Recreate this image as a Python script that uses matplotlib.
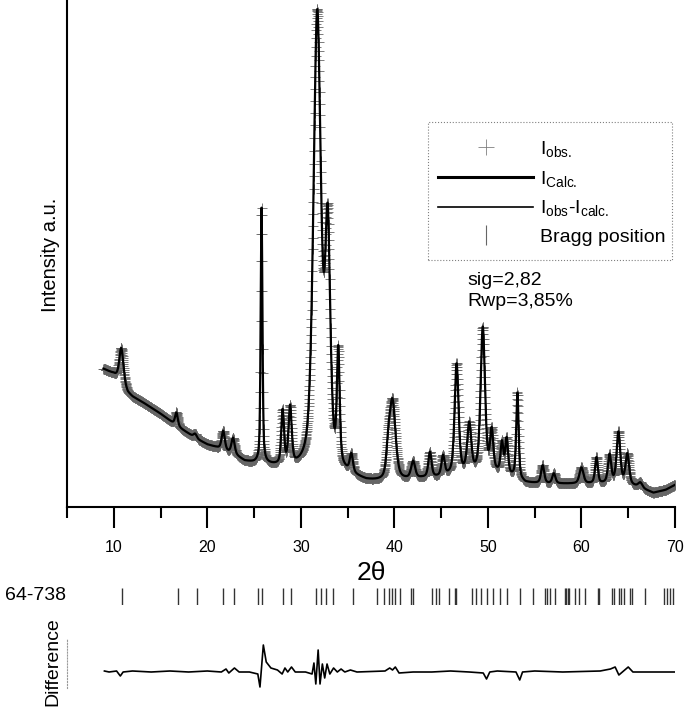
import numpy as np
import matplotlib
matplotlib.use('Agg')
import matplotlib.pyplot as plt
from matplotlib.lines import Line2D
from matplotlib.patches import Rectangle

plt.rcParams['font.family'] = ['Liberation Sans', 'DejaVu Sans']
plt.rcParams['mathtext.fontset'] = 'custom'
plt.rcParams['mathtext.rm'] = 'Liberation Sans'

# refined reflections: position (2theta), height (counts), FWHM (deg)
peak_pos = [10.8, 16.7, 18.7, 21.7, 22.75, 25.8, 28.05, 28.85, 31.75, 32.87,
            34.0, 35.4, 39.35, 39.8, 42.0, 43.8, 45.2, 46.65, 48.0, 49.45,
            50.4, 51.5, 52.0, 53.15, 55.85, 57.05, 60.0, 61.6, 63.0, 63.95,
            64.9, 66.3]
peak_amp = [330, 130, 40, 190, 160, 2550, 540, 580, 4550, 2300,
            1120, 180, 250, 780, 170, 250, 200, 1100, 480, 1450,
            400, 300, 350, 850, 180, 100, 160, 260, 280, 500,
            300, 50]
peak_fwhm = [0.5, 0.35, 0.4, 0.4, 0.4, 0.22, 0.35, 0.4, 0.95, 0.65,
             0.35, 0.4, 0.5, 0.75, 0.5, 0.4, 0.4, 0.5, 0.5, 0.55,
             0.4, 0.35, 0.35, 0.3, 0.4, 0.4, 0.5, 0.35, 0.4, 0.45,
             0.45, 0.5]

# background points
bg_pos = [8.9, 10, 11, 11.5, 12, 13, 14, 15, 16, 17, 18, 19, 20, 21, 22, 23, 24,
          25, 26, 27, 28, 29, 30, 33, 35, 37, 39, 41, 43, 45, 47, 49, 51, 53,
          54, 56, 58, 60, 62, 64, 66, 67.7, 69, 70]
bg_int = [1380, 1330, 1240, 1140, 1100, 1050, 990, 930, 860, 790, 730, 670, 620,
          590, 550, 510, 450, 430, 420, 400, 380, 360, 350, 320, 300, 250, 240,
          260, 280, 290, 320, 330, 330, 290, 240, 230, 230, 230, 230, 240, 200,
          140, 170, 220]

# difference curve Iobs - Icalc
diff_pos = [9.0, 9.5, 10.3, 10.7, 11.0, 12, 14, 16, 18, 20, 21.5, 22.0, 22.3,
            22.9, 23.4, 24.5, 25.4, 25.63, 25.99, 26.3, 26.8, 27.5, 28.0, 28.3,
            28.6, 29.0, 29.4, 30.5, 31.2, 31.4, 31.6, 31.85, 32.05, 32.3, 32.55,
            32.8, 33.1, 33.5, 33.9, 34.3, 34.7, 35.3, 36, 39.0, 39.5, 39.8, 40.1,
            40.5, 42, 44, 46, 48, 49.5, 49.85, 50.2, 51, 53.0, 53.4, 53.7, 55,
            58, 62, 63.1, 63.6, 64.0, 64.5, 65.0, 65.5, 70.2]
diff_val = [10, 0, 10, -40, 0, 10, 0, 10, 0, 10, 0, 30, -10,
            40, 0, 0, -20, -150, 270, 100, 40, 20, -20, 40,
            0, 50, 0, 0, -20, 90, -120, 220, -120, 80, -60,
            80, -20, 40, 0, 30, 0, 20, 0, 10, 40, 20, 50,
            -10, 0, 0, 10, 0, -10, -70, 0, 10, 0, -80, 0, 10,
            0, 10, 30, 50, -30, 10, 50, 0, 0]

# Bragg positions, card 64-738
bragg_pos = [10.85, 16.87, 18.9, 21.68, 22.85, 25.4, 25.85, 28.1, 28.95, 31.6,
             32.15, 32.7, 33.4, 35.55, 38.14, 38.87, 39.4, 39.74, 40.07, 40.6,
             41.78, 41.99, 43.98, 44.45, 44.77, 45.84, 46.43, 46.59, 48.3, 48.69,
             49.3, 49.95, 50.54, 51.29, 52.01, 53.43, 54.78, 56.07, 56.32, 56.64,
             57.22, 58.24, 58.35, 58.51, 58.67, 59.31, 59.74, 60.36, 61.72, 61.87,
             63.26, 63.52, 63.96, 64.23, 64.55, 65.19, 65.4, 66.76, 68.82, 69.1,
             69.46, 69.82]


def profile(tt):
    # background + pseudo-Voigt reflections
    y = np.interp(tt, bg_pos, bg_int)
    for p, a, w in zip(peak_pos, peak_amp, peak_fwhm):
        g = np.exp(-4 * np.log(2) * ((tt - p) / w) ** 2)
        l = 1.0 / (1 + (2 * (tt - p) / w) ** 2)
        y = y + a * (0.5 * g + 0.5 * l)
    return y


tt = np.arange(8.9, 70.0, 0.02)
i_calc = profile(tt)

W, H = 685, 709
fig = plt.figure(figsize=(W / 100, H / 100), dpi=100)

# main pattern
ax = fig.add_axes([67 / W, 1 - 507 / H, 608 / W, 507 / H])
ax.plot(tt, i_calc, ls='none', marker='+', ms=6.5, mew=0.6, color='0.4')
ax.plot(tt, i_calc, color='black', lw=1.6)
ax.set_xlim(5, 70)
ax.set_ylim(0, 5070)
for s in ['top', 'right']:
    ax.spines[s].set_visible(False)
ax.spines['left'].set_linewidth(1.5)
ax.spines['bottom'].set_linewidth(1.5)
ax.set_yticks([])
ax.set_xticks(np.arange(10, 71, 10))
ax.set_xticks(np.arange(5, 71, 10), minor=True)
ax.tick_params(axis='x', which='major', length=15, width=1.5, pad=9, labelsize=11.5)
ax.tick_params(axis='x', which='minor', length=8, width=1.5)

fig.text(371 / W, 1 - 573 / H, '2θ', ha='center', va='center', fontsize=19)
fig.text(51 / W, 1 - 255 / H, 'Intensity a.u.', rotation=90, ha='center', va='center', fontsize=14.5)

# legend: dotted box drawn separately, entries placed inside it
fig.patches.append(Rectangle((428 / W, 1 - 260 / H), 244 / W, 138 / H,
                             transform=fig.transFigure, fill=False,
                             edgecolor='0.5', linestyle=':', linewidth=0.8))
handles = [
    Line2D([], [], ls='none', marker='+', ms=12, mew=0.6, color='0.5'),
    Line2D([], [], color='black', lw=2.2),
    Line2D([], [], color='black', lw=1.2),
    Line2D([], [], ls='none', marker='|', ms=14, mew=0.8, color='0.4'),
]
labels = [r'$\mathregular{I_{obs.}}$', r'$\mathregular{I_{Calc.}}$',
          r'$\mathregular{I_{obs}\text{-}I_{calc.}}$', 'Bragg position']
leg = fig.legend(handles, labels, loc='upper left', bbox_to_anchor=(438 / W, 1 - 139 / H),
                 bbox_transform=fig.transFigure, borderaxespad=0, borderpad=0,
                 fontsize=14, handlelength=4.9, handletextpad=0.35,
                 labelspacing=0.5, frameon=False)

fig.text(467 / W, 1 - 280 / H, 'sig=2,82', va='center', fontsize=14)
fig.text(467 / W, 1 - 302 / H, 'Rwp=3,85%', va='center', fontsize=14)

# Bragg ticks
axb = fig.add_axes([67 / W, 1 - 605 / H, 608 / W, 17 / H])
axb.vlines(bragg_pos, 0, 1, color='0.2', lw=1.0)
axb.set_xlim(5, 70)
axb.set_ylim(0, 1)
axb.axis('off')
fig.text(5 / W, 1 - 596 / H, '64-738', va='center', fontsize=14)

# difference
axd = fig.add_axes([67 / W, 0, 608 / W, 79 / H])
axd.plot(diff_pos, diff_val, color='black', lw=1.2)
axd.set_xlim(5, 70)
axd.set_ylim(-370, 420)
for s in ['top', 'right', 'bottom']:
    axd.spines[s].set_visible(False)
axd.spines['left'].set_color('0.6')
axd.spines['left'].set_linestyle(':')
axd.spines['left'].set_linewidth(0.8)
axd.spines['left'].set_bounds(-160, 340)
axd.set_xticks([])
axd.set_yticks([])
axd.patch.set_visible(False)
fig.text(53 / W, 1 - 662 / H, 'Difference', rotation=90, ha='center', va='center', fontsize=14)

fig.savefig('out.png', dpi=100)
